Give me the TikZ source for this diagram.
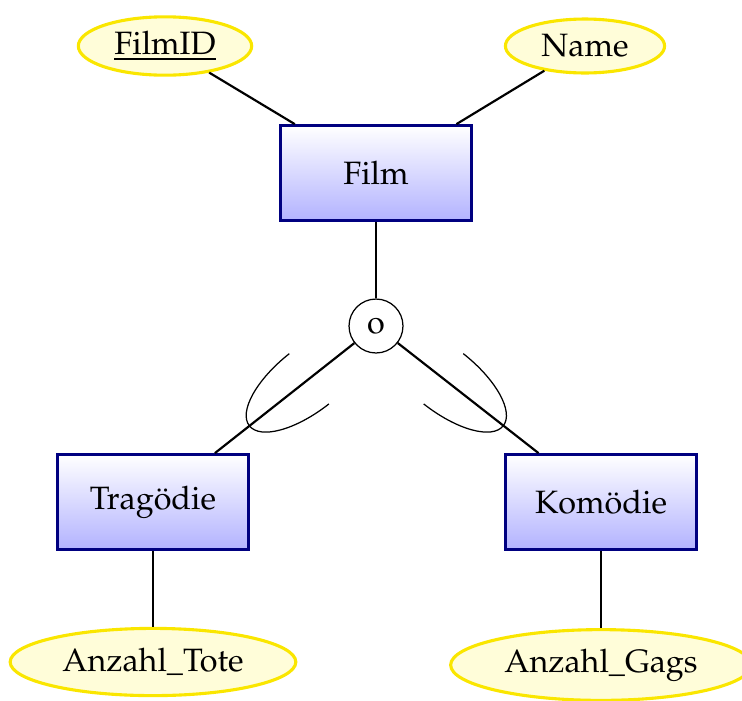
\documentclass[tikz,border=0pt]{standalone}
\usepackage[T1]{fontenc}
\usepackage{mathpazo}
\usetikzlibrary{shapes.geometric}
\usetikzlibrary{calc}

\definecolor{entityline}{RGB}{0,0,128}
\definecolor{attrline}{RGB}{250,230,0}

\begin{document}
\begin{tikzpicture}[x=0.0113cm, y=-0.0113cm, font=\fontsize{10.4}{12}\selectfont,
		entity/.style={draw=entityline, line width=1pt, top color=white, bottom color=blue!30, minimum width=2.16cm, minimum height=1.07cm},
		attribute/.style={ellipse, draw=attrline, line width=1pt, fill=yellow!15, inner sep=0pt},
		isa/.style={circle, draw, thin, minimum size=0.61cm, inner sep=0pt},
		link/.style={line width=0.7pt}]
	\useasboundingbox (0,0) rectangle (742,700);
	\node[entity] (film) at (376,173) {Film};
	\node[entity] (trag) at (153,502) {Trag\"odie};
	\node[entity] (kom) at (601,502) {Kom\"odie};
	\node[isa] (isa) at (376,326) {o};
	\node[attribute, minimum width=1.96cm, minimum height=0.66cm] (filmid) at (165,46) {\underline{FilmID}};
	\node[attribute, minimum width=1.8cm, minimum height=0.61cm] (name) at (585,46) {Name};
	\node[attribute, minimum width=3.23cm, minimum height=0.76cm] (tote) at (153,662) {Anzahl\_Tote};
	\node[attribute, minimum width=3.4cm, minimum height=0.8cm] (gags) at (601,665) {Anzahl\_Gags};

	\draw[link] (filmid) -- (film);
	\draw[link] (name) -- (film);
	\draw[link] (film) -- (isa);
	\draw[link] (isa) -- (trag);
	\draw[link] (isa) -- (kom);
	\draw[link] (trag) -- (tote);
	\draw[link] (kom) -- (gags);

	\coordinate (sub1) at ($(isa)!0.3!(trag)$);
	\coordinate (sub2) at ($(isa)!0.3!(kom)$);
	\draw[thin, shift={(sub1)}, rotate=218.2] (0,32) arc[start angle=90, end angle=-90, x radius=76, y radius=32];
	\draw[thin, shift={(sub2)}, rotate=-38.2] (0,32) arc[start angle=90, end angle=-90, x radius=76, y radius=32];
\end{tikzpicture}
\end{document}
